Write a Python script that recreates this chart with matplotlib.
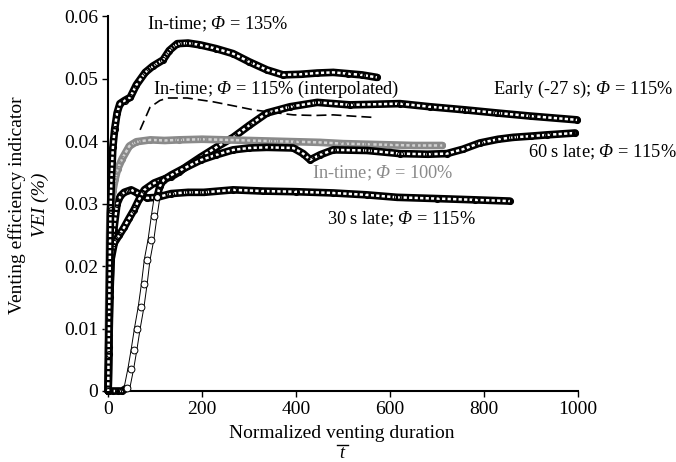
import matplotlib
matplotlib.use("Agg")
import matplotlib.pyplot as plt
from matplotlib.lines import Line2D

plt.rcParams['font.family'] = ['Liberation Serif', 'DejaVu Serif']
plt.rcParams['mathtext.fontset'] = 'custom'
plt.rcParams['mathtext.rm'] = 'Liberation Serif'
plt.rcParams['mathtext.it'] = 'Liberation Serif:italic'
plt.rcParams['mathtext.sf'] = 'Liberation Serif:italic'

# ---------------- data ----------------
t135 = [0, 1, 2, 3, 4, 5, 7, 10, 14, 19, 25, 35, 47, 60, 79, 95, 117, 130, 147, 170,
        196, 230, 266, 300, 338, 372, 410, 445, 479, 510, 540, 572]
v135 = [0.0, 0.006, 0.012, 0.018, 0.024, 0.029, 0.034, 0.039, 0.042, 0.0445, 0.046, 0.0465,
        0.047, 0.049, 0.051, 0.052, 0.053, 0.0545, 0.0556, 0.0557, 0.0554, 0.0548, 0.054,
        0.0527, 0.0514, 0.0506, 0.0507, 0.0509, 0.051, 0.0508, 0.0506, 0.0502]

t100 = [0, 1, 2, 3, 4, 7, 10, 15, 20, 30, 45, 60, 90, 120, 150, 200, 250, 300, 350, 400,
        450, 500, 550, 600, 650, 711]
v100 = [0.006, 0.013, 0.019, 0.025, 0.0285, 0.0305, 0.032, 0.034, 0.0355, 0.0372, 0.0392,
        0.0399, 0.0402, 0.0401, 0.0402, 0.0403, 0.0402, 0.0401, 0.04, 0.0399, 0.0398, 0.0396,
        0.0395, 0.0394, 0.0393, 0.0393]

t_early = [0, 1, 3, 6, 13, 24, 34, 45, 55, 66, 77, 98, 115, 134, 150, 168, 196, 230, 266,
           300, 338, 387, 445, 515, 621, 685, 760, 828, 900, 998]
v_early = [0.0, 0.007, 0.015, 0.021, 0.0237, 0.025, 0.0262, 0.0277, 0.029, 0.0307, 0.0322,
           0.0333, 0.0338, 0.0343, 0.035, 0.036, 0.0374, 0.039, 0.0406, 0.0425, 0.0445,
           0.0455, 0.0462, 0.0458, 0.046, 0.0455, 0.045, 0.0445, 0.044, 0.0434]

t60 = [0, 10, 20, 30, 40, 48, 55, 62, 70, 77, 83, 91, 98, 104, 110, 118, 135, 155, 198, 230,
       266, 300, 338, 394, 415, 430, 451, 479, 551, 621, 680, 721, 755, 791, 830, 862, 900,
       934, 994]
v60 = [0, 0, 0, 0, 0.0005, 0.0035, 0.0066, 0.0100, 0.0134, 0.0172, 0.021, 0.0242, 0.0280,
       0.031, 0.0328, 0.0338, 0.0346, 0.0354, 0.037, 0.0378, 0.0386, 0.0389, 0.039, 0.0389,
       0.038, 0.037, 0.0378, 0.0386, 0.0385, 0.038, 0.0379, 0.038, 0.0387, 0.0397, 0.0403,
       0.0406, 0.0408, 0.041, 0.0413]
sparse_start, sparse_end = 4, 13   # the part of the 60 s late curve drawn as separate circles

t30 = [0, 2, 4, 7, 12, 19, 26, 34, 49, 62, 83, 104, 134, 170, 204, 266, 330, 400, 479, 550,
       615, 700, 780, 855]
v30 = [0.0, 0.009, 0.016, 0.0225, 0.0258, 0.030, 0.0312, 0.0318, 0.0322, 0.0317, 0.0309,
       0.031, 0.0316, 0.0318, 0.0318, 0.0322, 0.032, 0.0319, 0.0317, 0.0314, 0.031, 0.0308,
       0.0306, 0.0304]

t115i = [68, 89, 110, 126, 168, 223, 270, 309, 350, 394, 440, 479, 520, 564]
v115i = [0.0418, 0.0454, 0.0465, 0.0469, 0.0469, 0.0463, 0.0456, 0.045, 0.0446, 0.0442,
         0.0441, 0.0442, 0.044, 0.0438]

xticks = [0, 200, 400, 600, 800, 1000]
yticks = [0, 0.01, 0.02, 0.03, 0.04, 0.05, 0.06]
ytick_labels = ['0', '0.01', '0.02', '0.03', '0.04', '0.05', '0.06']

# ---------------- figure ----------------
fig = plt.figure(figsize=(6.76, 4.62), dpi=100)
ax = fig.add_axes([0.16, 0.1537, 0.695, 0.8113])


def band(t, v, outer, inner, z):
    ax.plot(t, v, color=outer, lw=5.5, solid_capstyle='round', solid_joinstyle='round',
            zorder=z, clip_on=False)
    ax.plot(t, v, color=inner, lw=1.8, dashes=(1.3, 0.9), zorder=z + 0.1, clip_on=False)
    ax.plot(t, v, ls='none', marker='o', ms=4.3, mfc='none', mec=outer, mew=0.8,
            zorder=z + 0.2, clip_on=False)


def chain(t, v, z):
    ax.plot(t, v, color='black', lw=4.8, solid_capstyle='round', zorder=z, clip_on=False)
    ax.plot(t, v, color='white', lw=3.4, solid_capstyle='round', zorder=z + 0.1, clip_on=False)
    ax.plot(t, v, ls='none', marker='o', ms=4.9, mfc='white', mec='black', mew=0.7,
            zorder=z + 0.2, clip_on=False)


band(t30, v30, 'black', 'white', 3)
band(t_early, v_early, 'black', 'white', 4)
band(t100, v100, '#8a8a8a', '#d2d2d2', 5)
band(t60[:sparse_start + 1], v60[:sparse_start + 1], 'black', 'white', 6)
chain(t60[sparse_start:sparse_end + 1], v60[sparse_start:sparse_end + 1], 6)
band(t60[sparse_end:], v60[sparse_end:], 'black', 'white', 6)
band(t135, v135, 'black', 'white', 7)
ax.plot(t115i, v115i, color='black', lw=1.2, dashes=(6, 3), zorder=8)

ax.set_xlim(0, 1000)
ax.set_ylim(0, 0.06)
ax.set_xticks(xticks)
ax.set_xticklabels([str(x) for x in xticks])
ax.set_yticks(yticks)
ax.set_yticklabels(ytick_labels)
ax.tick_params(direction='out', length=4, width=1, labelsize=14, pad=3)
for s in ['top', 'right']:
    ax.spines[s].set_visible(False)
for s in ['left', 'bottom']:
    ax.spines[s].set_linewidth(1.5)

fs = 14
afs = 13.2
P = r'$\mathsf{\Phi}$'
ax.text(83, 0.0586, 'In-time; ' + P + ' = 135%', fontsize=afs, va='center', ha='left')
ax.text(96, 0.0482, 'In-time; ' + P + ' = 115% (interpolated)', fontsize=afs, va='center', ha='left')
ax.text(819, 0.0482, 'Early (-27 s); ' + P + ' = 115%', fontsize=afs, va='center', ha='left', clip_on=False)
ax.text(894, 0.0382, '60 s late; ' + P + ' = 115%', fontsize=afs, va='center', ha='left', clip_on=False)
ax.text(434, 0.0349, 'In-time; ' + P + ' = 100%', fontsize=afs, va='center', ha='left', color='#8a8a8a')
ax.text(466, 0.0274, '30 s late; ' + P + ' = 115%', fontsize=afs, va='center', ha='left')

fig.text(17 / 676, 1 - 205 / 462, 'Venting efficiency indicator', rotation=90, fontsize=fs,
         ha='center', va='center')
fig.text(40 / 676, 1 - 205 / 462, 'VEI (%)', rotation=90, fontsize=fs, style='italic',
         ha='center', va='center')
fig.text(342 / 676, 1 - 433 / 462, 'Normalized venting duration', fontsize=fs,
         ha='center', va='center')
fig.text(342 / 676, 0.5 / 462, 't', fontsize=13, style='italic', ha='center', va='bottom')
fig.add_artist(Line2D([337 / 676, 348 / 676], [1 - 445 / 462, 1 - 445 / 462],
                      transform=fig.transFigure, color='black', lw=1.0))

fig.savefig('out.png', dpi=100)
